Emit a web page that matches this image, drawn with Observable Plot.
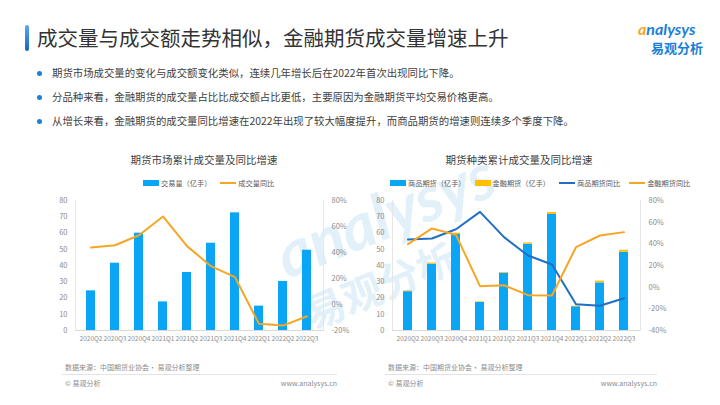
<!DOCTYPE html>
<html>
<head>
<meta charset="utf-8">
<script src="https://cdn.jsdelivr.net/npm/d3@7"></script>
<script src="https://cdn.jsdelivr.net/npm/@observablehq/plot@0.6"></script>
<style>
  html, body { margin: 0; padding: 0; background: #fff; }
  body { width: 720px; height: 405px; position: relative; overflow: hidden; font-family: "Noto Sans CJK SC", "Noto Sans", sans-serif; }
  .abs { position: absolute; white-space: nowrap; }
  .title { left: 37px; top: 23px; font-size: 20.5px; color: #333; line-height: 28px; }
  .accent { left: 25px; top: 25px; width: 4px; height: 26px; border-radius: 2px; background: linear-gradient(#5aa9f0, #1565c0); }
  .bullet { left: 52px; font-size: 10.4px; color: #404040; line-height: 14px; }
  .dot { width: 5px; height: 5px; border-radius: 50%; background: #1a7fd8; left: 37px; }
  .ctitle { font-size: 10.5px; color: #404040; transform: translateX(-50%); }
  .legend { font-size: 7.2px; color: #595959; display: flex; align-items: center; gap: 0; }
  .legend span.sw { display: inline-block; width: 16px; height: 6px; margin-right: 2px; }
  .legend span.ln { display: inline-block; width: 16px; height: 2px; margin-right: 2px; }
  .legend span.it { margin-right: 9px; }
  .foot { font-size: 7px; color: #8c8c8c; }
  .sep { height: 1px; background: #e3e3e3; }
  .wm { color: #cfe7f8; font-weight: bold; opacity: 0.6; }
</style>
</head>
<body>
<script>
// ---- data ----
const quarters = ["2020Q2","2020Q3","2020Q4","2021Q1","2021Q2","2021Q3","2021Q4","2022Q1","2022Q2","2022Q3"];
const totalVolume = [24.4, 41.4, 59.9, 17.6, 35.7, 53.7, 72.4, 15.0, 30.2, 49.4];
const totalYoY = [43.8, 45.6, 53.3, 67.7, 44.9, 29.5, 21.0, -14.9, -16.2, -9.0];
const commodityVolume = [23.9, 40.8, 59.1, 17.3, 35.3, 53.1, 71.4, 14.6, 29.3, 48.2];
const financialVolume = [0.4, 0.7, 0.8, 0.3, 0.4, 0.8, 1.2, 0.4, 1.1, 1.2];
const commodityYoY = [44.0, 44.9, 53.5, 69.5, 46.2, 29.2, 20.9, -15.7, -17.2, -10.2];
const financialYoY = [39.7, 54.2, 48.3, 0.9, 1.8, -7.4, -7.7, 36.9, 47.7, 50.8];
const leftTicks = [0, 10, 20, 30, 40, 50, 60, 70, 80];
const rightTicksA = [-20, 0, 20, 40, 60, 80];
const rightTicksB = [-40, -20, 0, 20, 40, 60, 80];
const bulletTexts = [
  "期货市场成交量的变化与成交额变化类似，连续几年增长后在2022年首次出现同比下降。",
  "分品种来看，金融期货的成交量占比比成交额占比更低，主要原因为金融期货平均交易价格更高。",
  "从增长来看，金融期货的成交量同比增速在2022年出现了较大幅度提升，而商品期货的增速则连续多个季度下降。"
];

const BLUE = "#0aa6f5", ORANGE = "#f5a623", YELLOW = "#ffc000", DBLUE = "#1f6fc5";

function el(cls, style, html) {
  const d = document.createElement("div");
  d.className = "abs " + cls;
  Object.assign(d.style, style);
  if (html != null) d.innerHTML = html;
  document.body.appendChild(d);
  return d;
}

// watermark
el("wm", {left: "270px", top: "175px", fontSize: "64px", transform: "rotate(-22deg)", fontStyle: "italic", fontFamily: "Lato, sans-serif"}, "analysys");
el("wm", {left: "300px", top: "255px", fontSize: "40px", transform: "rotate(-22deg)"}, "易观分析");

// header
el("accent", {});
el("title", {}, "成交量与成交额走势相似，金融期货成交量增速上升");
el("", {left: "638px", top: "20px", fontSize: "16px", fontWeight: "bold", fontStyle: "italic", color: "#1a7fd8", fontFamily: "Lato, sans-serif", lineHeight: "18px"}, '<span style="color:#f5a623">a</span>nalysys');
el("", {left: "651px", top: "40px", fontSize: "13px", fontWeight: "bold", color: "#1a7fd8", lineHeight: "16px"}, "易观分析");

bulletTexts.forEach((t, i) => {
  const y = 73 + i * 24;
  el("dot", {top: (y - 2.5) + "px"});
  el("bullet", {top: (y - 7) + "px"}, t);
});

// chart titles
el("ctitle", {left: "204px", top: "152px"}, "期货市场累计成交量及同比增速");
el("ctitle", {left: "519px", top: "152px"}, "期货种类累计成交量及同比增速");

// legends
el("legend", {left: "143px", top: "178px"},
  `<span class="sw" style="background:${BLUE}"></span><span class="it">交易量（亿手）</span>` +
  `<span class="ln" style="background:${ORANGE}"></span><span class="it">成交量同比</span>`);
el("legend", {left: "390px", top: "178px"},
  `<span class="sw" style="background:${BLUE}"></span><span class="it">商品期货（亿手）</span>` +
  `<span class="sw" style="background:${YELLOW}"></span><span class="it">金融期货（亿手）</span>` +
  `<span class="ln" style="background:${DBLUE}"></span><span class="it">商品期货同比</span>` +
  `<span class="ln" style="background:${ORANGE}"></span><span class="it">金融期货同比</span>`);

const axisStyle = {fontFamily: "Noto Sans CJK SC, sans-serif", fontSize: "7.5px", color: "#8c8c8c", background: "transparent", overflow: "visible"};

// left chart
const leftData = quarters.map((q, i) => ({q, v: totalVolume[i], p: totalYoY[i]}));
const yA = d3.scaleLinear([-20, 80], [0, 80]);
const plotA = Plot.plot({
  width: 325, height: 155, marginLeft: 45, marginRight: 32, marginTop: 5, marginBottom: 20,
  style: axisStyle,
  x: {domain: quarters, paddingInner: 0.62, paddingOuter: 0.31, label: null},
  y: {domain: [0, 80], label: null},
  marks: [
    Plot.frame({anchor: "left", stroke: "#e6e6e6"}),
    Plot.frame({anchor: "right", stroke: "#e6e6e6"}),
    Plot.ruleY([0], {stroke: "#d9d9d9"}),
    Plot.barY(leftData, {x: "q", y: "v", fill: BLUE}),
    Plot.line(leftData, {x: "q", y: d => yA(d.p), stroke: ORANGE, strokeWidth: 2}),
    Plot.axisY({anchor: "left", ticks: leftTicks, tickSize: 0, tickPadding: 8, label: null}),
    Plot.axisY({anchor: "right", ticks: rightTicksA.map(yA), tickFormat: d => `${Math.round(yA.invert(d))}%`, tickSize: 0, tickPadding: 8, label: null}),
    Plot.axisX({tickSize: 0, tickPadding: 6, label: null, fontSize: 6.5})
  ]
});
const wA = el("", {left: "30px", top: "195px"});
wA.appendChild(plotA);

// right chart
const rightBars = [];
quarters.forEach((q, i) => {
  rightBars.push({q, s: "商品期货", v: commodityVolume[i]});
  rightBars.push({q, s: "金融期货", v: financialVolume[i]});
});
const rightLines = quarters.map((q, i) => ({q, c: commodityYoY[i], f: financialYoY[i]}));
const yB = d3.scaleLinear([-40, 80], [0, 80]);
const plotB = Plot.plot({
  width: 330, height: 155, marginLeft: 32, marginRight: 50, marginTop: 5, marginBottom: 20,
  style: axisStyle,
  x: {domain: quarters, paddingInner: 0.62, paddingOuter: 0.31, label: null},
  y: {domain: [0, 80], label: null},
  color: {domain: ["商品期货", "金融期货"], range: [BLUE, YELLOW]},
  marks: [
    Plot.frame({anchor: "left", stroke: "#e6e6e6"}),
    Plot.frame({anchor: "right", stroke: "#e6e6e6"}),
    Plot.ruleY([0], {stroke: "#d9d9d9"}),
    Plot.barY(rightBars, {x: "q", y: "v", fill: "s"}),
    Plot.line(rightLines, {x: "q", y: d => yB(d.c), stroke: DBLUE, strokeWidth: 2}),
    Plot.line(rightLines, {x: "q", y: d => yB(d.f), stroke: ORANGE, strokeWidth: 2}),
    Plot.axisY({anchor: "left", ticks: leftTicks, tickSize: 0, tickPadding: 8, label: null}),
    Plot.axisY({anchor: "right", ticks: rightTicksB.map(yB), tickFormat: d => `${Math.round(yB.invert(d))}%`, tickSize: 0, tickPadding: 8, label: null}),
    Plot.axisX({tickSize: 0, tickPadding: 6, label: null, fontSize: 6.5})
  ]
});
const wB = el("", {left: "360px", top: "195px"});
wB.appendChild(plotB);

// footers
[[65, 337], [388, 657]].forEach(([x0, x1]) => {
  el("foot", {left: x0 + "px", top: "362px"}, "数据来源：中国期货业协会· 易观分析整理");
  el("sep", {left: (x0 - 3) + "px", top: "374px", width: (x1 - x0 + 3) + "px"});
  el("foot", {left: x0 + "px", top: "378px"}, "© 易观分析");
  el("foot", {left: (x1 - 80) + "px", top: "378px", width: "80px", textAlign: "right"}, "www.analysys.cn");
});
</script>
</body>
</html>
